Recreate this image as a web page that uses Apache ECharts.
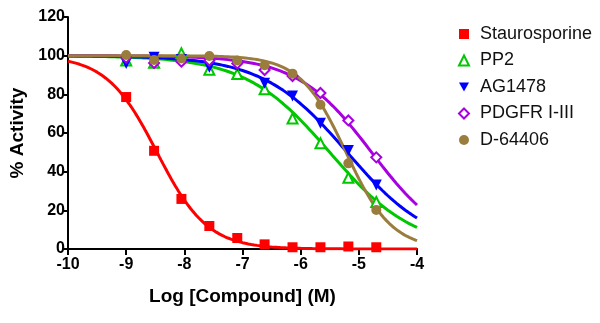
<!DOCTYPE html>
<html><head><meta charset="utf-8">
<script src="https://cdn.jsdelivr.net/npm/echarts@6/dist/echarts.min.js"></script>
<style>html,body{margin:0;padding:0;background:#fff}#c{width:600px;height:323px}</style>
</head><body><div id="c"></div>
<script>
// Log concentration of each dilution (M)
const logConc = [-9, -8.52, -8.05, -7.57, -7.09, -6.62, -6.14, -5.66, -5.18, -4.70];
// % activity
const staurosporine = [78.6, 50.8, 25.9, 11.9, 5.7, 2.4, 0.9, 0.9, 1.3, 0.9];
const pp2          = [97.5, 96.4, 101.2, 92.7, 90.5, 82.6, 67.5, 54.7, 36.8, 24.3];
const ag1478       = [96.0, 99.2, 98.0, 94.0, 94.8, 85.7, 79.2, 65.0, 51.0, 33.1];
const pdgfr        = [99.0, 96.2, 96.9, 97.5, 96.0, 92.6, 89.5, 80.7, 66.5, 47.4];
const d64406       = [100.3, 97.8, 98.5, 99.8, 97.5, 95.0, 90.7, 74.6, 44.3, 20.2];
// Fitted curve parameters: [top, bottom, logIC50, hill]
const fitStaurosporine = [100, 0, -8.47, 1.0];
const fitPP2           = [100, 0, -5.5, 0.6];
const fitAG1478        = [100, 0, -5.2, 0.6];
const fitPDGFR         = [100, 0, -4.78, 0.68];
const fitD64406        = [100, 0, -5.22, 1.1];

const names  = ['Staurosporine', 'PP2', 'AG1478', 'PDGFR I-III', 'D-64406'];
const values = [staurosporine, pp2, ag1478, pdgfr, d64406];
const fits   = [fitStaurosporine, fitPP2, fitAG1478, fitPDGFR, fitD64406];
const xTicks = [-10, -9, -8, -7, -6, -5, -4];
const yTicks = [0, 20, 40, 60, 80, 100, 120];

const colors  = ['#ff0000', '#00c800', '#0000ff', '#a800e0', '#9a7d3d'];
const symbols = ['rect', 'triangle', 'path://M0,0 L10,0 L5,9 Z', 'diamond', 'circle'];
const hollow  = [false, true, false, true, false];
const sizes   = [10, 10, 11, 10, 10];

function curve(p) {
  const pts = [];
  for (let i = 0; i <= 240; i++) {
    const x = -10 + i * 0.025;
    pts.push([x, p[1] + (p[0] - p[1]) / (1 + Math.pow(10, (x - p[2]) * p[3]))]);
  }
  return pts;
}

const series = [];
names.forEach((n, i) => {
  series.push({
    name: n + ' fit', type: 'line', data: curve(fits[i]), showSymbol: false, symbol: 'none',
    smooth: false, lineStyle: { color: colors[i], width: 3 }, silent: true, z: 2
  });
});
names.forEach((n, i) => {
  series.push({
    name: n, type: 'scatter', symbol: symbols[i], symbolSize: sizes[i],
    data: logConc.map((x, k) => [x, values[i][k]]),
    itemStyle: hollow[i] ? { color: '#fff', borderColor: colors[i], borderWidth: 2, opacity: 1 } : { color: colors[i], opacity: 1 },
    z: 3
  });
});

const chart = echarts.init(document.getElementById('c'), null, { renderer: 'canvas' });
chart.setOption({
  animation: false,
  grid: { left: 68, right: 183, top: 17, bottom: 74, containLabel: false },
  xAxis: {
    type: 'value', min: xTicks[0], max: xTicks[xTicks.length - 1], interval: 1,
    name: 'Log [Compound] (M)', nameLocation: 'middle', nameGap: 38,
    nameTextStyle: { fontFamily: 'Liberation Sans, Arial', fontWeight: 'bold', fontSize: 19, color: '#000' },
    axisLine: { lineStyle: { color: '#000', width: 2 } },
    axisTick: { length: 6, lineStyle: { color: '#000', width: 2 } },
    axisLabel: { color: '#000', fontFamily: 'Liberation Sans, Arial', fontWeight: 'bold', fontSize: 16, margin: 8 },
    splitLine: { show: false }
  },
  yAxis: {
    type: 'value', min: yTicks[0], max: yTicks[yTicks.length - 1], interval: 20,
    name: '% Activity', nameLocation: 'middle', nameGap: 41,
    nameTextStyle: { fontFamily: 'Liberation Sans, Arial', fontWeight: 'bold', fontSize: 19, color: '#000' },
    axisLine: { show: true, lineStyle: { color: '#000', width: 2 } },
    axisTick: { show: true, length: 5, lineStyle: { color: '#000', width: 2 } },
    axisLabel: { color: '#000', fontFamily: 'Liberation Sans, Arial', fontWeight: 'bold', fontSize: 16, margin: 3 },
    splitLine: { show: false }
  },
  legend: {
    data: names, orient: 'vertical', left: 453, top: 20,
    itemWidth: 10, itemHeight: 10, itemGap: 8.5,
    textStyle: { fontFamily: 'Liberation Sans, Arial', fontSize: 18, color: '#111', lineHeight: 18, padding: [0, 0, 0, 6] }
  },
  series: series
});
</script></body></html>
